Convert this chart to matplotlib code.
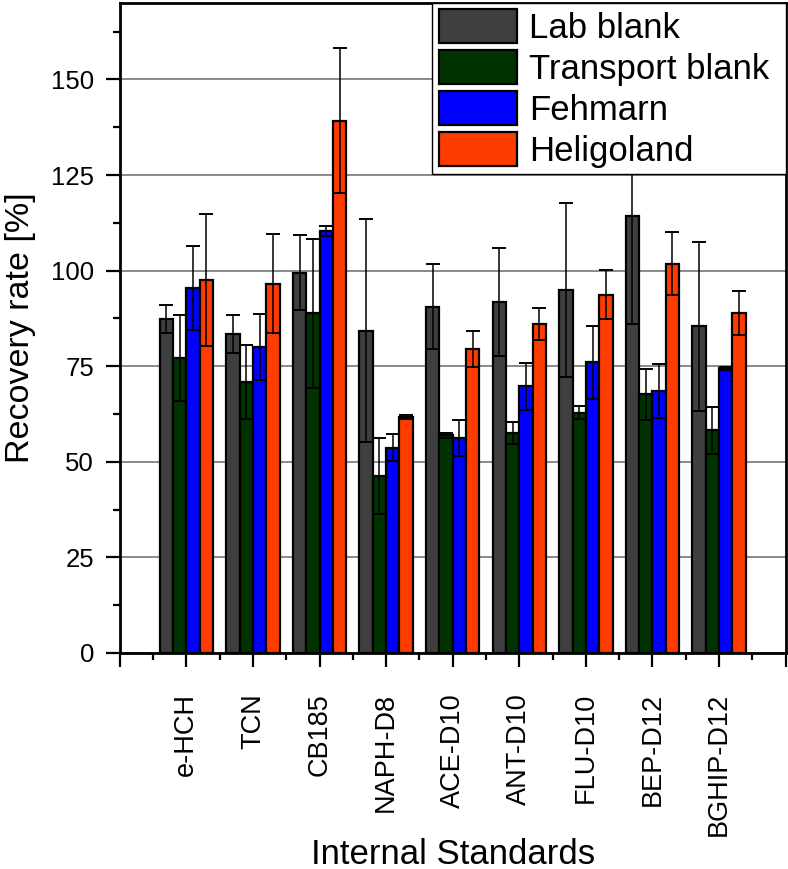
import numpy as np
import matplotlib
matplotlib.use("Agg")
from matplotlib import pyplot as plt
from matplotlib.ticker import MultipleLocator

# Internal standards and recovery data (mean, std) per sample type
standards = ["e-HCH", "TCN", "CB185", "NAPH-D8", "ACE-D10",
             "ANT-D10", "FLU-D10", "BEP-D12", "BGHIP-D12"]
series = ["Lab blank", "Transport blank", "Fehmarn", "Heligoland"]

lab_blank = [87.3, 83.4, 99.5, 84.3, 90.5, 91.7, 94.9, 114.3, 85.5]
lab_blank_err = [3.6, 5.0, 9.8, 29.1, 11.1, 14.1, 22.8, 28.3, 22.1]
transport_blank = [77.1, 70.9, 88.8, 46.3, 56.9, 57.5, 62.8, 67.6, 58.2]
transport_blank_err = [11.3, 9.7, 19.5, 9.9, 0.6, 2.9, 1.7, 6.7, 6.1]
fehmarn = [95.4, 80.0, 110.4, 53.7, 56.3, 69.7, 76.0, 68.6, 74.4]
fehmarn_err = [11.0, 8.7, 1.3, 3.6, 4.7, 6.2, 9.6, 7.1, 0.4]
heligoland = [97.5, 96.6, 139.2, 61.7, 79.6, 86.0, 93.7, 101.8, 88.9]
heligoland_err = [17.2, 13.0, 19.0, 0.6, 4.7, 4.2, 6.4, 8.2, 5.8]

colors = ["#3f3f3f", "#003300", "#0000ff", "#ff3c00"]

plt.rcParams["font.family"] = ["Liberation Sans", "DejaVu Sans"]

fig = plt.figure(figsize=(7.88, 8.69), dpi=100)
ax = fig.add_axes([0.152, 0.2486, 0.845, 0.748])

x = np.arange(1, len(standards) + 1)
width = 0.2
values = [lab_blank, transport_blank, fehmarn, heligoland]
errors = [lab_blank_err, transport_blank_err, fehmarn_err, heligoland_err]

for k, (vals, errs) in enumerate(zip(values, errors)):
    pos = x + (k - 1.5) * width
    ax.bar(pos, vals, width, color=colors[k], edgecolor="black",
           linewidth=1.6, label=series[k], zorder=2)
    ax.errorbar(pos, vals, yerr=errs, fmt="none", ecolor="black",
                elinewidth=1.1, capsize=4.8, capthick=1.4, zorder=3)

ax.set_xlim(0, 10)
ax.set_ylim(0, 170)
ax.set_xticks(np.arange(0, 11))
ax.set_xticklabels([""] + standards + [""], rotation=90, fontsize=19.5)
ax.xaxis.set_minor_locator(MultipleLocator(0.5))
ax.yaxis.set_major_locator(MultipleLocator(25))
ax.yaxis.set_minor_locator(MultipleLocator(12.5))
ax.tick_params(axis="both", which="major", length=10, width=1.6,
               direction="out")
ax.tick_params(axis="both", which="minor", length=5, width=1.6,
               direction="out")
ax.tick_params(axis="y", labelsize=18.5, pad=8.5)
ax.tick_params(axis="x", pad=19)

ax.grid(axis="y", color="#808080", linewidth=1.3, zorder=0)
ax.set_axisbelow(True)
for spine in ax.spines.values():
    spine.set_linewidth(2)

ax.set_ylabel("Recovery rate [%]", fontsize=24.5, labelpad=11)
ax.set_xlabel("Internal Standards", fontsize=25)
ax.xaxis.set_label_coords(0.5, -0.284)

leg = ax.legend(loc="upper right", bbox_to_anchor=(0.4695, 0, 0.5305, 1),
                mode="expand", borderaxespad=0,
                fontsize=25, handlelength=2.25, handleheight=1.12,
                labelspacing=0.15, handletextpad=0.35, borderpad=0.18,
                fancybox=False, framealpha=1, edgecolor="black")
leg.get_frame().set_linewidth(1.0)
for patch in leg.get_patches():
    patch.set_linewidth(1.6)

fig.savefig("out.png", dpi=100)
